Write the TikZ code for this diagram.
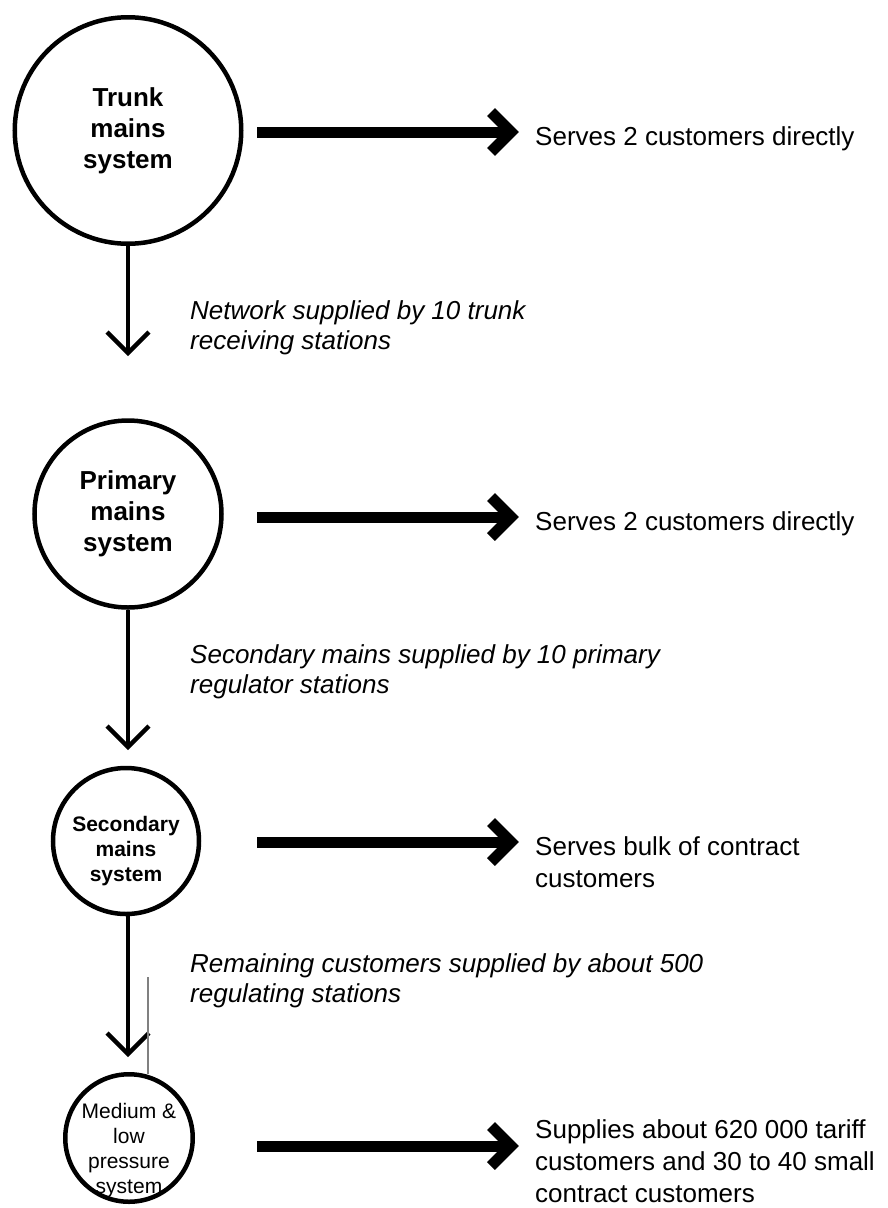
\documentclass[tikz,border=0pt]{standalone}
\usepackage{fontspec}
\setmainfont{Liberation Sans}
\usetikzlibrary{calc}
\begin{document}
\begin{tikzpicture}[x=1pt,y=-1pt,
  sysnode/.style={draw, circle, line width=4.5pt, inner sep=0pt},
  bigtxt/.style={font=\fontsize{26}{31}\selectfont\bfseries, align=center},
  note/.style={font=\fontsize{26}{30}\selectfont\itshape, align=left, anchor=base west, inner sep=0pt},
  serve/.style={font=\fontsize{26}{32}\selectfont, align=left, anchor=base west, inner sep=0pt},
  shaft/.style={line width=11pt},
  headh/.style={line width=11pt, miter limit=10},
  vline/.style={line width=4.5pt},
  vhead/.style={line width=4.5pt, miter limit=10},
  thinline/.style={draw=black!50, line width=1.2pt}
]
\path[use as bounding box] (0,0) rectangle (887,1208);

% system circles
\node[sysnode, minimum size=226.5pt, bigtxt] (c1) at (128,130.5) {Trunk\\mains\\system};
\node[sysnode, minimum size=187pt, bigtxt] (c2) at (128,514) {Primary\\mains\\system};
\node[sysnode, minimum size=146pt] (c3) at (126,841) {};
\node[font=\fontsize{21}{25}\selectfont\bfseries, align=center, inner sep=0pt] (c3t) at (126,851) {Secondary\\mains\\system};
\node[sysnode, minimum size=127.5pt] (c4) at (129,1138) {};
\node[font=\fontsize{21}{25}\selectfont, align=center, inner sep=0pt] (c4t) at (129,1151) {Medium \&\\low\\pressure\\system};

% vertical connectors
\coordinate (v1) at (128,353);
\coordinate (v2) at (128,747);
\coordinate (v3) at (128,1054);
\draw[vline] (c1.south) -- (v1);
\draw[vhead] ($(v1)+(-21,-21)$) -- (v1) -- ($(v1)+(21,-21)$);
\draw[vline] (c2.south) -- (v2);
\draw[vhead] ($(v2)+(-21,-21)$) -- (v2) -- ($(v2)+(21,-21)$);
\draw[vline] (c3.south -| v3) -- (v3);
\draw[vhead] ($(v3)+(-21,-21)$) -- (v3) -- ($(v3)+(21,-21)$);

% thin grey line
\coordinate (g1) at (148,977);
\coordinate (g2) at (148,1074);
\draw[thinline] (g1) -- (g2);

% horizontal connectors
\coordinate (h1s) at (257,132);  \coordinate (h1e) at (511,132);
\coordinate (h2s) at (257,517);  \coordinate (h2e) at (511,517);
\coordinate (h3s) at (257,842);  \coordinate (h3e) at (511,842);
\coordinate (h4s) at (257,1146); \coordinate (h4e) at (511,1146);
\foreach \i in {1,2,3,4}{
  \draw[shaft] (h\i s) -- (h\i e);
  \draw[headh] ($(h\i e)+(-20,-20)$) -- (h\i e) -- ($(h\i e)+(-20,20)$);
}

% right-hand texts (base anchor = baseline of last line)
\node[serve] (t1) at (535,145) {Serves 2 customers directly};
\node[serve] (t2) at (535,530) {Serves 2 customers directly};
\node[serve] (t3) at (535,887) {Serves bulk of contract\\customers};
\node[serve] (t4) at (535,1202) {Supplies about 620 000 tariff\\customers and 30 to 40 small\\contract customers};

% italic notes
\node[note] (n1) at (190,349) {Network supplied by 10 trunk\\receiving stations};
\node[note] (n2) at (190,693) {Secondary mains supplied by 10 primary\\regulator stations};
\node[note] (n3) at (190,1002) {Remaining customers supplied by about 500\\regulating stations};
\end{tikzpicture}
\end{document}
